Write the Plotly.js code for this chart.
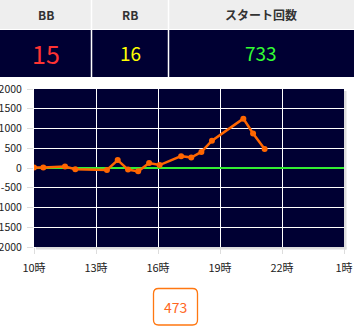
<!DOCTYPE html>
<html>
<head>
<meta charset="utf-8">
<script src="https://cdn.plot.ly/plotly-3.0.1.min.js"></script>
<style>
html,body{margin:0;padding:0;background:#fff;}
#chart{width:354px;height:336px;}
</style>
</head>
<body>
<div id="chart"></div>
<script>
// ---- data ----
const headerLabels = ["BB", "RB", "スタート回数"];
const headerValues = ["15", "16", "733"];
const hours = [10.0, 10.45, 11.5, 12.0, 13.53, 14.05, 14.55, 15.04, 15.57, 16.08, 17.12, 17.61, 18.1, 18.61, 20.13, 20.6, 21.16];
const diffs = [10, 10, 40, -30, -50, 200, -40, -85, 125, 75, 300, 265, 408, 690, 1250, 875, 480];
const xTickVals = [10, 13, 16, 19, 22, 25];
const xTickText = ["10時", "13時", "16時", "19時", "22時", "1時"];
const yTickVals = [2000, 1500, 1000, 500, 0, -500, -1000, -1500, -2000];
const yTickText = ["2000", "1500", "1000", "500", "0", "-500", "-1000", "-1500", "-2000"];
const finalValue = "473";

// ---- layout helpers (pixel -> paper) ----
const W = 354, H = 336;
const M = {l: 34, r: 10, t: 89, b: 89};
const PW = W - M.l - M.r, PH = H - M.t - M.b;
const px = x => (x - M.l) / PW;
const py = y => (H - M.b - y) / PH;

const navy = "#000033";
const font = "'Noto Sans CJK JP', 'Noto Sans', sans-serif";

const shapes = [];
const annotations = [];

// table header row
shapes.push({type: "rect", xref: "paper", yref: "paper", x0: px(0), x1: px(354), y0: py(0), y1: py(29), fillcolor: "#eeeeee", line: {width: 0}, layer: "above"});
// value row
shapes.push({type: "rect", xref: "paper", yref: "paper", x0: px(0), x1: px(354), y0: py(30), y1: py(77), fillcolor: navy, line: {width: 0}, layer: "above"});
// column separators
[91.5, 168.5].forEach(x => {
  shapes.push({type: "line", xref: "paper", yref: "paper", x0: px(x), x1: px(x), y0: py(0), y1: py(77), line: {color: "#ffffff", width: 1.5}, layer: "above"});
});
const colCenters = [46, 130, 261];
const valueColors = ["#ff3333", "#ffff00", "#33ff33"];
const valueSizes = [25, 19, 19];
headerLabels.forEach((t, i) => {
  annotations.push({xref: "paper", yref: "paper", x: px(colCenters[i]), y: py(15), text: "<b>" + t + "</b>", showarrow: false, xanchor: "center", yanchor: "middle", font: {family: font, size: 12, color: "#333333"}});
  annotations.push({xref: "paper", yref: "paper", x: px(colCenters[i]), y: py(52.5), text: headerValues[i], showarrow: false, xanchor: "center", yanchor: "middle", font: {family: font, size: valueSizes[i], color: valueColors[i]}});
});

// plot shadow
shapes.push({type: "rect", xref: "paper", yref: "paper", x0: px(344), x1: px(346.5), y0: py(91), y1: py(249.5), fillcolor: "#dddddd", line: {width: 0}});
shapes.push({type: "rect", xref: "paper", yref: "paper", x0: px(36), x1: px(346.5), y0: py(247), y1: py(249.5), fillcolor: "#dddddd", line: {width: 0}});

// final value box with rounded corners
function roundRect(x0, y0, x1, y1, r) {
  const X = v => px(v), Y = v => py(v);
  return "M" + X(x0 + r) + "," + Y(y0) +
    " L" + X(x1 - r) + "," + Y(y0) +
    " Q" + X(x1) + "," + Y(y0) + " " + X(x1) + "," + Y(y0 + r) +
    " L" + X(x1) + "," + Y(y1 - r) +
    " Q" + X(x1) + "," + Y(y1) + " " + X(x1 - r) + "," + Y(y1) +
    " L" + X(x0 + r) + "," + Y(y1) +
    " Q" + X(x0) + "," + Y(y1) + " " + X(x0) + "," + Y(y1 - r) +
    " L" + X(x0) + "," + Y(y0 + r) +
    " Q" + X(x0) + "," + Y(y0) + " " + X(x0 + r) + "," + Y(y0) + " Z";
}
shapes.push({type: "path", xref: "paper", yref: "paper", path: roundRect(153.5, 288.5, 197.5, 325, 5), fillcolor: "rgba(0,0,0,0)", line: {color: "#ff7711", width: 1.3}});
annotations.push({xref: "paper", yref: "paper", x: px(175.5), y: py(307), text: finalValue, showarrow: false, xanchor: "center", yanchor: "middle", font: {family: font, size: 14, color: "#ff6622"}});

const traces = [{
  x: hours, y: diffs, type: "scatter", mode: "lines+markers",
  line: {color: "#ff6600", width: 2.5},
  marker: {color: "#ff6600", size: 6},
  hoverinfo: "skip"
}];

const layout = {
  width: W, height: H,
  margin: M,
  paper_bgcolor: "#ffffff",
  plot_bgcolor: navy,
  showlegend: false,
  font: {family: font, size: 10, color: "#222222"},
  xaxis: {
    range: [10, 25], tickvals: xTickVals, ticktext: xTickText,
    showgrid: true, gridcolor: "#ffffff", gridwidth: 1,
    zeroline: false, showline: false,
    ticks: "outside", ticklen: 6, tickcolor: "#dddddd",
    ticklabelstandoff: 5,
    tickfont: {family: font, size: 11, color: "#222222"},
    fixedrange: true
  },
  yaxis: {
    range: [-2000, 2000], tickvals: yTickVals, ticktext: yTickText,
    showgrid: true, gridcolor: "#ffffff", gridwidth: 1,
    zeroline: true, zerolinecolor: "#33ee33", zerolinewidth: 1.5,
    showline: false,
    ticks: "outside", ticklen: 6, tickcolor: "#dddddd",
    ticklabelstandoff: 3,
    tickfont: {family: font, size: 10.5, color: "#222222"},
    fixedrange: true
  },
  shapes: shapes,
  annotations: annotations
};

Plotly.newPlot("chart", traces, layout, {displayModeBar: false, staticPlot: true});
</script>
</body>
</html>
